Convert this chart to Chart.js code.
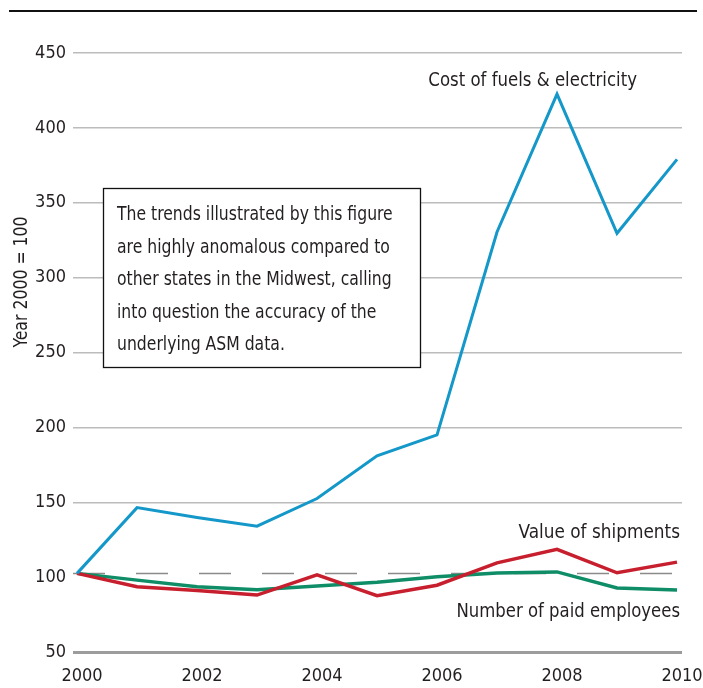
<!DOCTYPE html>
<html>
<head>
<meta charset="utf-8">
<script src="https://cdn.jsdelivr.net/npm/chart.js@4.4.1/dist/chart.umd.min.js"></script>
<style>
  html, body { margin: 0; padding: 0; background: #fff; }
  #wrap { width: 703px; height: 688px; position: relative; }
</style>
</head>
<body>
<div id="wrap"><canvas id="chart"></canvas></div>
<script>
// ---- data ----
const years = [2000, 2001, 2002, 2003, 2004, 2005, 2006, 2007, 2008, 2009, 2010];
const fuelCost   = [102.5, 146.4, 139.8, 134, 152.5, 181, 195, 330.5, 422.6, 329.6, 379];
const shipments  = [102.5, 93.6, 91, 88, 101.6, 87.6, 94.6, 109.5, 118.6, 102.9, 110];
const employees  = [102.5, 98, 93.6, 91.5, 94, 96.5, 100.2, 102.8, 103.5, 92.7, 91.4];
const baseLevel  = 102.5;
const xTicks = [2000, 2002, 2004, 2006, 2008, 2010];
const yTicks = [50, 100, 150, 200, 250, 300, 350, 400, 450];

const seriesNames = ['Cost of fuels & electricity', 'Value of shipments', 'Number of paid employees'];
const yTitle = 'Year 2000 = 100';
const noteLines = [
  'The trends illustrated by this figure',
  'are highly anomalous compared to',
  'other states in the Midwest, calling',
  'into question the accuracy of the',
  'underlying ASM data.'
];

const FONT = "'Liberation Sans Narrow', 'DejaVu Sans Condensed', 'Arial Narrow', sans-serif";
const INK = '#231f20';
const X_MIN = 1999.933, X_MAX = 2010.083;

const pts = arr => years.map((x, i) => ({ x, y: arr[i] }));

// text squeezed horizontally, anchored at (x, y)
function narrowText(ctx, text, x, y, sx, align) {
  ctx.save();
  ctx.translate(x, y);
  ctx.scale(sx, 1);
  ctx.textAlign = align;
  ctx.fillText(text, 0, 0);
  ctx.restore();
}

// ---- extra drawing: top rule, axis title, note box, series labels ----
const decor = {
  id: 'decor',
  afterDraw(chart) {
    const ctx = chart.ctx;
    ctx.save();
    // top rule
    ctx.strokeStyle = '#111';
    ctx.lineWidth = 2;
    ctx.beginPath(); ctx.moveTo(9, 11); ctx.lineTo(697, 11); ctx.stroke();

    // y title
    ctx.fillStyle = INK;
    ctx.font = '19px ' + FONT;
    ctx.textBaseline = 'middle';
    ctx.save();
    ctx.translate(22, 282);
    ctx.rotate(-Math.PI / 2);
    narrowText(ctx, yTitle, 0, 0, 0.92, 'center');
    ctx.restore();

    // note box
    ctx.fillStyle = '#fff';
    ctx.fillRect(103, 188, 318, 180);
    ctx.strokeStyle = '#111';
    ctx.lineWidth = 1.3;
    ctx.strokeRect(103.5, 188.5, 317, 179);
    ctx.fillStyle = INK;
    ctx.textBaseline = 'alphabetic';
    noteLines.forEach((t, i) => narrowText(ctx, t, 117, 220 + i * 32.5, 0.915, 'left'));

    // series labels
    narrowText(ctx, seriesNames[0], 637, 86, 0.97, 'right');
    narrowText(ctx, seriesNames[1], 680, 538, 0.99, 'right');
    narrowText(ctx, seriesNames[2], 680, 617, 0.965, 'right');
    ctx.restore();
  }
};

new Chart(document.getElementById('chart'), {
  type: 'line',
  data: {
    datasets: [
      { label: seriesNames[0], data: pts(fuelCost),  borderColor: '#1497c9', borderWidth: 3 },
      { label: seriesNames[1], data: pts(shipments), borderColor: '#c71f2d', borderWidth: 3.5 },
      { label: seriesNames[2], data: pts(employees), borderColor: '#0f8d66', borderWidth: 3.5 },
      { label: 'base', data: [{ x: X_MIN, y: baseLevel }, { x: X_MAX, y: baseLevel }],
        borderColor: '#8a8a8a', borderWidth: 1.5, borderDash: [32, 31] }
    ]
  },
  options: {
    responsive: true,
    maintainAspectRatio: false,
    animation: false,
    layout: { padding: { top: 53, right: 21, bottom: 0, left: 0 } },
    elements: { point: { radius: 0 }, line: { tension: 0, borderCapStyle: 'butt', borderJoinStyle: 'miter' } },
    plugins: { legend: { display: false }, tooltip: { enabled: false } },
    scales: {
      x: {
        type: 'linear', min: X_MIN, max: X_MAX,
        afterBuildTicks: s => { s.ticks = xTicks.map(v => ({ value: v })); },
        afterFit: s => { s.height = 36; s.paddingLeft = 0; s.paddingRight = 0; },
        grid: { display: false, drawTicks: false },
        border: { display: false },
        ticks: { color: INK, font: { family: FONT, size: 18 }, padding: 14, labelOffset: 5,
                 maxRotation: 0, autoSkip: false, callback: v => String(v) }
      },
      y: {
        min: 50, max: 450,
        afterBuildTicks: s => { s.ticks = yTicks.map(v => ({ value: v })); },
        afterFit: s => { s.width = 73; },
        grid: {
          drawTicks: false,
          color: c => c.tick.value === 50 ? '#9c9c9c' : (c.tick.value === 100 ? 'rgba(0,0,0,0)' : '#bcbcbc'),
          lineWidth: c => c.tick.value === 50 ? 3 : 1.5
        },
        border: { display: false },
        ticks: { color: INK, font: { family: FONT, size: 18 }, padding: 7 }
      }
    }
  },
  plugins: [decor]
});
</script>
</body>
</html>
